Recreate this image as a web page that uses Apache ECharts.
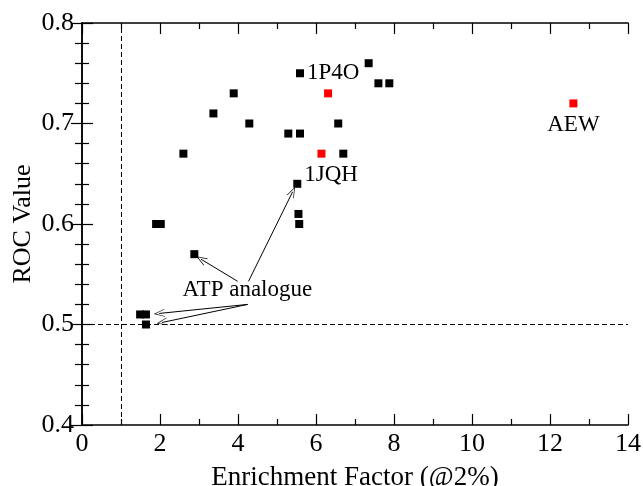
<!DOCTYPE html>
<html>
<head>
<meta charset="utf-8">
<script src="https://cdn.jsdelivr.net/npm/echarts@6/dist/echarts.min.js"></script>
<style>
  html, body { margin: 0; padding: 0; background: #fff; }
  #chart { width: 643px; height: 486px; }
</style>
</head>
<body>
<div id="chart"></div>
<script>
// black points (Enrichment factor, ROC)
var blackX = [5.59, 3.89, 3.37, 4.29, 6.57, 5.29, 5.59, 2.60, 6.70, 5.52, 5.55, 5.57, 1.90, 2.02, 2.88, 1.49, 1.64, 1.64, 7.35, 7.60, 7.88];
var blackY = [0.75, 0.73, 0.71, 0.70, 0.70, 0.69, 0.69, 0.67, 0.67, 0.64, 0.61, 0.60, 0.60, 0.60, 0.57, 0.51, 0.51, 0.50, 0.76, 0.74, 0.74];
var blackNames = ['1P4O', '', '', '', '', '', '', '', '', '1JQH', '', '', '', '', '', '', '', '', '', '', ''];
// red points
var redX = [6.31, 6.14, 12.60];
var redY = [0.73, 0.67, 0.72];
var redNames = ['', '', 'AEW'];
// ATP analogue annotation: text anchor and arrow targets
var atpText = [4.24, 0.534];
var arrowStart = [[3.99, 0.543], [4.27, 0.543], [4.25, 0.520], [4.25, 0.520]];
var arrowEnd = [[3.05, 0.565], [5.40, 0.632], [1.98, 0.511], [2.05, 0.502]];

var font = 'Liberation Serif';
var axisFont = 26;
var labelPos = {
    '1P4O': { position: 'right', distance: 3 },
    '1JQH': { position: 'right', distance: 3, offset: [0, -9] },
    'AEW': { position: 'bottom', distance: 6 }
};

function makeData(xs, ys, names) {
    var out = [];
    for (var i = 0; i < xs.length; i++) {
        var item = { value: [xs[i], ys[i]] };
        if (names[i]) {
            var p = labelPos[names[i]];
            item.label = {
                show: true,
                formatter: names[i],
                position: p.position,
                distance: p.distance,
                offset: p.offset || [0, 0],
                color: '#000',
                fontFamily: font,
                fontSize: 23
            };
        }
        out.push(item);
    }
    return out;
}

var arrows = [];
for (var i = 0; i < arrowStart.length; i++) {
    arrows.push([{ coord: arrowStart[i] }, { coord: arrowEnd[i] }]);
}

var tickStyle = { color: '#000', width: 1.2 };
var chart = echarts.init(document.getElementById('chart'));
var option = {
    animation: false,
    grid: { left: 82, right: 15, top: 23, bottom: 61, containLabel: false, outerBoundsMode: 'none' },
    xAxis: [{
        type: 'value',
        min: 0, max: 14, interval: 2,
        name: 'Enrichment Factor (@2%)',
        nameLocation: 'middle',
        nameGap: 39,
        nameMoveOverlap: false,
        nameTextStyle: { color: '#000', fontFamily: font, fontSize: 27 },
        axisLine: { lineStyle: { color: '#000', width: 1.5 } },
        axisTick: { inside: true, length: 11, lineStyle: tickStyle },
        minorTick: { show: true, splitNumber: 2, length: 6, lineStyle: tickStyle },
        axisLabel: { color: '#000', fontFamily: font, fontSize: axisFont, margin: 6 },
        splitLine: { show: false }
    }, {
        type: 'value',
        position: 'top',
        min: 0, max: 14, interval: 2,
        axisLine: { lineStyle: { color: '#000', width: 1.5 } },
        axisTick: { inside: true, length: 11, lineStyle: tickStyle },
        minorTick: { show: true, splitNumber: 2, length: 6, lineStyle: tickStyle },
        axisLabel: { show: false },
        splitLine: { show: false }
    }],
    yAxis: [{
        type: 'value',
        min: 0.4, max: 0.8, interval: 0.1,
        name: 'ROC Value',
        nameLocation: 'middle',
        nameGap: 46,
        nameMoveOverlap: false,
        nameTextStyle: { color: '#000', fontFamily: font, fontSize: axisFont },
        axisLine: { lineStyle: { color: '#000', width: 1.5 } },
        axisTick: { inside: true, length: 11, lineStyle: tickStyle },
        minorTick: { show: true, splitNumber: 5, length: 7, lineStyle: tickStyle },
        axisLabel: {
            color: '#000', fontFamily: font, fontSize: axisFont, margin: 8,
            formatter: function (v) { return v.toFixed(1); }
        },
        splitLine: { show: false }
    }, {
        type: 'value',
        position: 'right',
        min: 0.4, max: 0.8, interval: 0.1,
        axisLine: { lineStyle: { color: '#000', width: 1.5 } },
        axisTick: { inside: true, length: 11, lineStyle: tickStyle },
        minorTick: { show: true, splitNumber: 5, length: 7, lineStyle: tickStyle },
        axisLabel: { show: false },
        splitLine: { show: false }
    }],
    series: [{
        type: 'scatter',
        symbol: 'rect',
        symbolSize: 8,
        itemStyle: { color: '#000', opacity: 1 },
        data: makeData(blackX, blackY, blackNames),
        markLine: {
            silent: true,
            symbol: 'none',
            label: { show: false },
            lineStyle: { color: '#000', width: 1, type: [5, 3] },
            data: [{ xAxis: 1 }, { yAxis: 0.5 }]
        },
        markPoint: {
            silent: true,
            symbol: 'circle',
            symbolSize: 0,
            label: {
                show: true, position: 'inside', color: '#000',
                fontFamily: font, fontSize: 23,
                formatter: 'ATP analogue'
            },
            data: [{ coord: atpText }]
        },
        z: 3
    }, {
        type: 'scatter',
        symbol: 'rect',
        symbolSize: 8,
        itemStyle: { color: '#ff0000', opacity: 1 },
        data: makeData(redX, redY, redNames),
        markLine: {
            silent: true,
            symbol: ['none', 'path://M0,0L6,14L5,14L0,2.5L-5,14L-6,14Z'],
            symbolSize: [8, 11],
            label: { show: false },
            lineStyle: { color: '#000', width: 1, type: 'solid' },
            data: arrows
        },
        z: 3
    }]
};
chart.setOption(option);
</script>
</body>
</html>
